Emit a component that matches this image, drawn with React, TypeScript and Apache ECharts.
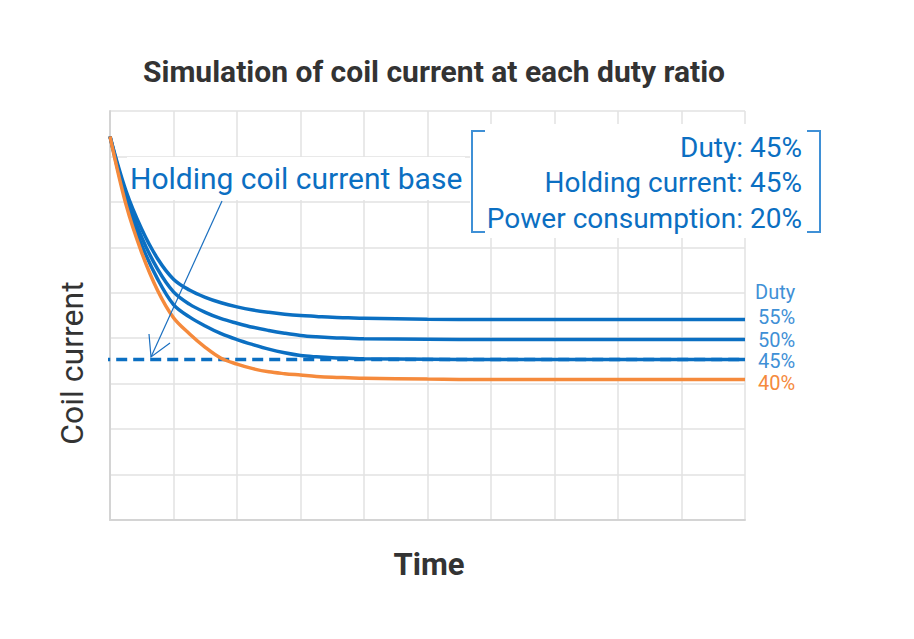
import React, { useEffect, useRef } from "react";
import * as echarts from "echarts";

const times = [0, 0.25, 0.5, 0.75, 1, 1.25, 1.5, 1.75, 2, 2.25, 2.5, 2.75, 3, 3.25, 3.5, 3.75, 4, 5, 6, 7, 8, 9, 10];
const duty55 = [8.44, 7.25, 6.4, 5.75, 5.3, 5.06, 4.9, 4.78, 4.69, 4.62, 4.57, 4.53, 4.5, 4.48, 4.46, 4.45, 4.44, 4.42, 4.41, 4.41, 4.41, 4.41, 4.41];
const duty50 = [8.44, 7.15, 6.22, 5.52, 5.02, 4.75, 4.57, 4.43, 4.33, 4.24, 4.17, 4.11, 4.06, 4.03, 4.01, 4.0, 3.99, 3.98, 3.97, 3.97, 3.97, 3.97, 3.97];
const duty45 = [8.44, 7.05, 6.05, 5.3, 4.74, 4.47, 4.27, 4.1, 3.97, 3.86, 3.76, 3.68, 3.62, 3.59, 3.57, 3.56, 3.55, 3.54, 3.53, 3.53, 3.53, 3.53, 3.53];
const duty40 = [8.44, 6.95, 5.88, 5.05, 4.45, 4.1, 3.8, 3.56, 3.43, 3.33, 3.26, 3.22, 3.19, 3.16, 3.14, 3.13, 3.12, 3.1, 3.09, 3.09, 3.09, 3.09, 3.09];
const holdingBase = 3.53;
const baseStart = -0.17;
const seriesNames = ["55%", "50%", "45%", "40%"];
const infoLines = ["Duty: 45%", "Holding current: 45%", "Power consumption: 20%"];

const BLUE = "#0b6fc2";
const LIGHT_BLUE = "#3f90d6";
const ORANGE = "#f58a3c";
const FONT = "Roboto";

const pair = (ys: number[]) => times.map((t, i) => [t, ys[i]]);

export default function App() {
  const ref = useRef<HTMLDivElement>(null);
  useEffect(() => {
    if (!ref.current) return;
    const chart = echarts.init(ref.current, null, { renderer: "svg" });
    const lineSeries = (name: string, ys: number[], color: string) => ({
      name,
      type: "line",
      data: pair(ys),
      smooth: 0.35,
      showSymbol: false,
      symbol: "none",
      lineStyle: { color, width: 3.5 },
      z: 3,
    });
    const sideLabel = (text: string, x: number, y: number, color: string) => ({
      type: "text",
      x,
      y,
      z: 5,
      style: { text, font: `20px ${FONT}`, fill: color, align: "left", verticalAlign: "middle" },
    });
    chart.setOption({
      animation: false,
      backgroundColor: "#ffffff",
      grid: { left: 110, right: 169, top: 111, bottom: 119, containLabel: false },
      xAxis: {
        type: "value",
        min: 0,
        max: 10,
        interval: 1,
        axisLabel: { show: false },
        axisTick: { show: false },
        axisLine: { show: true, lineStyle: { color: "#d4d4d4", width: 2 } },
        splitLine: { show: true, lineStyle: { color: "#e2e2e2", width: 1.5 } },
      },
      yAxis: {
        type: "value",
        min: 0,
        max: 9,
        interval: 1,
        axisLabel: { show: false },
        axisTick: { show: false },
        axisLine: { show: true, lineStyle: { color: "#d4d4d4", width: 2 } },
        splitLine: { show: true, lineStyle: { color: "#e2e2e2", width: 1.5 } },
      },
      series: [
        {
          name: "base",
          type: "line",
          data: [
            [baseStart, holdingBase],
            [10, holdingBase],
          ],
          clip: false,
          showSymbol: false,
          symbol: "none",
          lineStyle: { color: BLUE, width: 3.5, type: [11, 6] },
          z: 2,
        },
        lineSeries(seriesNames[0], duty55, BLUE),
        lineSeries(seriesNames[1], duty50, BLUE),
        lineSeries(seriesNames[2], duty45, BLUE),
        lineSeries(seriesNames[3], duty40, ORANGE),
      ],
      graphic: [
        {
          type: "rect",
          z: 1,
          shape: { x: 127, y: 157, width: 338, height: 43 },
          style: { fill: "#ffffff" },
        },
        {
          type: "rect",
          z: 1,
          shape: { x: 470, y: 124, width: 353, height: 114 },
          style: { fill: "#ffffff" },
        },
        {
          type: "text",
          x: 434,
          y: 71,
          z: 5,
          style: {
            text: "Simulation of coil current at each duty ratio",
            font: `bold 30px ${FONT}`,
            fill: "#333333",
            align: "center",
            verticalAlign: "middle",
          },
        },
        {
          type: "text",
          x: 72,
          y: 363,
          z: 5,
          rotation: Math.PI / 2,
          style: {
            text: "Coil current",
            font: `32px ${FONT}`,
            fill: "#333333",
            align: "center",
            verticalAlign: "middle",
          },
        },
        {
          type: "text",
          x: 429,
          y: 564,
          z: 5,
          style: {
            text: "Time",
            font: `bold 31px ${FONT}`,
            fill: "#333333",
            align: "center",
            verticalAlign: "middle",
          },
        },
        {
          type: "text",
          x: 130,
          y: 178,
          z: 5,
          style: {
            text: "Holding coil current base",
            font: `30px ${FONT}`,
            fill: BLUE,
            align: "left",
            verticalAlign: "middle",
          },
        },
        {
          type: "line",
          shape: { x1: 222, y1: 201, x2: 151, y2: 357 },
          style: { stroke: "#1a6fc0", lineWidth: 1.2 },
          z: 10,
        },
        {
          type: "polyline",
          shape: { points: [[149, 334], [151, 357], [170, 343]] },
          style: { stroke: "#1a6fc0", lineWidth: 1.2, fill: null },
          z: 10,
        },
        {
          type: "polyline",
          z: 5,
          shape: { points: [[485, 131], [472, 131], [472, 232], [485, 232]] },
          style: { stroke: LIGHT_BLUE, lineWidth: 2, fill: null },
        },
        {
          type: "polyline",
          z: 5,
          shape: { points: [[807, 131], [820, 131], [820, 232], [807, 232]] },
          style: { stroke: LIGHT_BLUE, lineWidth: 2, fill: null },
        },
        ...infoLines.map((t, i) => ({
          type: "text",
          x: 802,
          y: 147 + i * 35.5,
          z: 5,
          style: {
            text: t,
            font: `28px ${FONT}`,
            fill: BLUE,
            align: "right",
            verticalAlign: "middle",
          },
        })),
        sideLabel("Duty", 755, 292, LIGHT_BLUE),
        sideLabel(seriesNames[0], 758, 317, LIGHT_BLUE),
        sideLabel(seriesNames[1], 758, 340, LIGHT_BLUE),
        sideLabel(seriesNames[2], 758, 361, LIGHT_BLUE),
        sideLabel(seriesNames[3], 758, 383, ORANGE),
      ],
    });
    return () => chart.dispose();
  }, []);
  return <div ref={ref} style={{ width: 914, height: 639, position: "absolute", left: 0, top: 0 }} />;
}
